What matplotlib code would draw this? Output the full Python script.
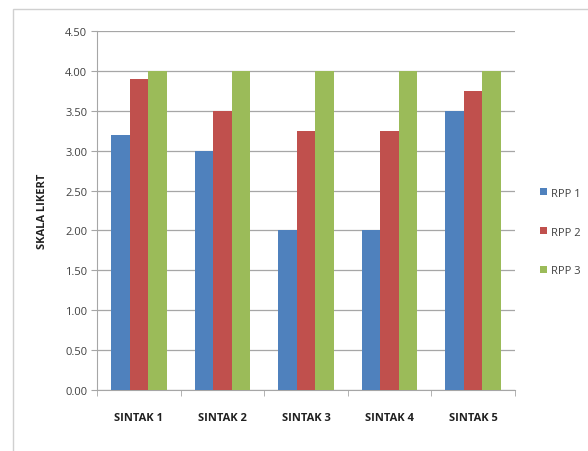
import matplotlib
matplotlib.use("Agg")
import matplotlib.pyplot as plt
import numpy as np
from matplotlib.patches import Rectangle

categories = ["SINTAK 1", "SINTAK 2", "SINTAK 3", "SINTAK 4", "SINTAK 5"]
series_names = ["RPP 1", "RPP 2", "RPP 3"]
rpp1 = [3.20, 3.00, 2.00, 2.00, 3.50]
rpp2 = [3.90, 3.50, 3.25, 3.25, 3.75]
rpp3 = [4.00, 4.00, 4.00, 4.00, 4.00]
y_ticks = [0.0, 0.5, 1.0, 1.5, 2.0, 2.5, 3.0, 3.5, 4.0, 4.5]
y_label = "SKALA LIKERT"

colors = ["#4F81BD", "#C0504D", "#9BBB59"]
plt.rcParams["font.family"] = ["Open Sans", "DejaVu Sans"]

W, H = 588, 452
fig = plt.figure(figsize=(W / 100, H / 100), dpi=100)
fig.patch.set_facecolor("white")

# outer chart frame
fig.patches.append(Rectangle((13 / W, -0.1), 1.2, 1.1 - 10 / H,
                             transform=fig.transFigure, fill=False,
                             edgecolor="#D0D0D0", linewidth=1.0))

ax = fig.add_axes([97 / W, 1 - 391 / H, (515 - 97) / W, (391 - 32) / H])

x = np.arange(len(categories))
bw = 1 / 4.5
for i, (vals, c) in enumerate(zip([rpp1, rpp2, rpp3], colors)):
    ax.bar(x + (i - 1) * bw, vals, width=bw, color=c, label=series_names[i],
           zorder=3, linewidth=0)

ax.set_xlim(-0.5, len(categories) - 0.5)
ax.set_ylim(0, 4.5)
ax.set_yticks(y_ticks)
ax.set_yticklabels([f"{v:.2f}" for v in y_ticks], fontsize=8, color="#404040")
ax.yaxis.grid(True, color="#A6A6A6", linewidth=0.9, zorder=0)
ax.set_axisbelow(True)

ax.set_xticks(x)
ax.set_xticklabels(categories, fontsize=8, fontweight="bold", color="#202020")
ax.tick_params(axis="x", length=0, pad=16)
ax.set_xticks(np.arange(-0.5, len(categories)), minor=True)
ax.tick_params(axis="x", which="minor", length=4, color="#A6A6A6", direction="out")
ax.tick_params(axis="y", length=4, color="#A6A6A6", pad=3)

for s in ["top", "right"]:
    ax.spines[s].set_visible(False)
ax.spines["left"].set_color("#A6A6A6")
ax.spines["bottom"].set_color("#A6A6A6")

ax.set_ylabel(y_label, fontsize=8, fontweight="bold", color="#202020",
              labelpad=12)

leg = ax.legend(loc="center left", bbox_to_anchor=(1.05, 0.44), frameon=False,
                fontsize=8, handlelength=0.6, handleheight=0.6,
                handletextpad=0.4, labelspacing=2.5, borderaxespad=0)
for t in leg.get_texts():
    t.set_color("#404040")

fig.savefig("out.png", dpi=100, facecolor="white")
